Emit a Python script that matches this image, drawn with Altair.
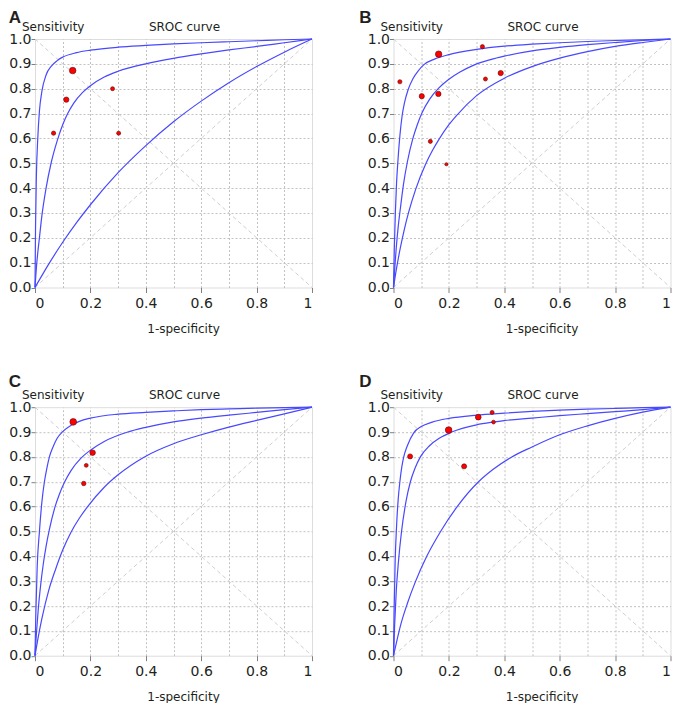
import altair as alt
import pandas as pd

# ---------------- data ----------------
# Panel A
A_pts_fpr = [0.136, 0.113, 0.280, 0.067, 0.302]
A_pts_sens = [0.873, 0.756, 0.800, 0.621, 0.621]
A_pts_w = [7.8, 5.0, 3.0, 3.3, 3.0]
A_up_fpr = [0, 0.002, 0.005, 0.01, 0.016, 0.025, 0.04, 0.06, 0.08, 0.1, 0.15, 0.2, 0.3, 0.4, 0.5, 0.6, 0.7, 0.8, 0.9, 1]
A_up_sens = [0, 0.25, 0.45, 0.6, 0.71, 0.79, 0.855, 0.892, 0.913, 0.927, 0.945, 0.955, 0.967, 0.974, 0.98, 0.985, 0.989, 0.993, 0.997, 1]
A_mid_fpr = [0, 0.005, 0.01, 0.016, 0.025, 0.04, 0.058, 0.08, 0.1, 0.118, 0.14, 0.172, 0.2, 0.25, 0.3, 0.4, 0.5, 0.6, 0.7, 0.8, 0.9, 1]
A_mid_sens = [0, 0.08, 0.14, 0.2, 0.29, 0.4, 0.5, 0.59, 0.655, 0.7, 0.742, 0.785, 0.812, 0.847, 0.87, 0.9, 0.922, 0.94, 0.956, 0.97, 0.985, 1]
A_low_fpr = [0, 0.05, 0.1, 0.15, 0.2, 0.3, 0.4, 0.5, 0.6, 0.7, 0.8, 0.9, 1]
A_low_sens = [0, 0.095, 0.182, 0.261, 0.333, 0.462, 0.571, 0.667, 0.75, 0.824, 0.889, 0.947, 1]

# Panel B
B_pts_fpr = [0.023, 0.163, 0.321, 0.102, 0.162, 0.332, 0.387, 0.133, 0.191]
B_pts_sens = [0.828, 0.939, 0.969, 0.770, 0.779, 0.839, 0.863, 0.588, 0.496]
B_pts_w = [3.2, 7.6, 3.2, 4.9, 5.2, 3.0, 5.0, 3.0, 1.9]
B_up_fpr = [0, 0.003, 0.007, 0.011, 0.016, 0.023, 0.031, 0.04, 0.053, 0.07, 0.09, 0.11, 0.15, 0.2, 0.3, 0.4, 0.5, 0.6, 0.7, 0.8, 0.9, 1]
B_up_sens = [0, 0.16, 0.31, 0.42, 0.51, 0.61, 0.69, 0.745, 0.797, 0.84, 0.873, 0.897, 0.92, 0.937, 0.958, 0.971, 0.979, 0.985, 0.99, 0.994, 0.997, 1]
B_mid_fpr = [0, 0.005, 0.01, 0.017, 0.025, 0.036, 0.05, 0.07, 0.085, 0.103, 0.13, 0.163, 0.2, 0.24, 0.29, 0.35, 0.4, 0.5, 0.6, 0.7, 0.8, 0.9, 1]
B_mid_sens = [0, 0.085, 0.16, 0.245, 0.32, 0.415, 0.505, 0.6, 0.652, 0.703, 0.757, 0.802, 0.838, 0.867, 0.895, 0.917, 0.931, 0.952, 0.966, 0.977, 0.986, 0.994, 1]
B_low_fpr = [0, 0.01, 0.025, 0.04, 0.055, 0.08, 0.115, 0.14, 0.163, 0.2, 0.23, 0.3, 0.4, 0.5, 0.6, 0.7, 0.8, 0.9, 1]
B_low_sens = [0, 0.071, 0.161, 0.238, 0.304, 0.395, 0.494, 0.55, 0.594, 0.655, 0.695, 0.772, 0.842, 0.889, 0.923, 0.949, 0.97, 0.986, 1]

# Panel C
C_pts_fpr = [0.138, 0.208, 0.185, 0.176]
C_pts_sens = [0.941, 0.817, 0.766, 0.693]
C_pts_w = [8.2, 5.6, 2.8, 3.6]
C_up_fpr = [0, 0.003, 0.008, 0.016, 0.025, 0.034, 0.042, 0.052, 0.065, 0.08, 0.1, 0.13, 0.16, 0.2, 0.3, 0.4, 0.5, 0.6, 0.7, 0.8, 0.9, 1]
C_up_sens = [0, 0.17, 0.36, 0.5, 0.62, 0.7, 0.75, 0.8, 0.84, 0.875, 0.902, 0.927, 0.943, 0.956, 0.972, 0.979, 0.985, 0.99, 0.993, 0.996, 0.998, 1]
C_mid_fpr = [0, 0.005, 0.012, 0.02, 0.03, 0.04, 0.052, 0.072, 0.088, 0.106, 0.13, 0.166, 0.2, 0.25, 0.335, 0.4, 0.5, 0.6, 0.7, 0.8, 0.9, 1]
C_mid_sens = [0, 0.087, 0.19, 0.28, 0.37, 0.44, 0.508, 0.598, 0.65, 0.697, 0.745, 0.795, 0.827, 0.862, 0.9, 0.919, 0.941, 0.956, 0.968, 0.979, 0.99, 1]
C_low_fpr = [0, 0.01, 0.025, 0.05, 0.075, 0.1, 0.13, 0.16, 0.19, 0.25, 0.3, 0.395, 0.5, 0.6, 0.7, 0.8, 0.9, 1]
C_low_sens = [0, 0.065, 0.15, 0.265, 0.35, 0.425, 0.497, 0.553, 0.6, 0.678, 0.728, 0.8, 0.853, 0.889, 0.92, 0.947, 0.973, 1]

# Panel D
D_pts_fpr = [0.060, 0.199, 0.306, 0.356, 0.361, 0.255]
D_pts_sens = [0.802, 0.908, 0.960, 0.979, 0.940, 0.762]
D_pts_w = [4.6, 8.0, 6.0, 3.0, 2.6, 4.6]
D_up_fpr = [0, 0.002, 0.006, 0.011, 0.017, 0.023, 0.03, 0.037, 0.05, 0.073, 0.1, 0.14, 0.2, 0.3, 0.4, 0.5, 0.6, 0.7, 0.8, 0.9, 1]
D_up_sens = [0, 0.17, 0.38, 0.52, 0.63, 0.7, 0.76, 0.8, 0.845, 0.897, 0.922, 0.94, 0.955, 0.968, 0.976, 0.983, 0.988, 0.992, 0.995, 0.998, 1]
D_mid_fpr = [0, 0.004, 0.01, 0.018, 0.029, 0.045, 0.061, 0.078, 0.097, 0.13, 0.165, 0.21, 0.3, 0.36, 0.4, 0.5, 0.6, 0.7, 0.8, 0.9, 1]
D_mid_sens = [0, 0.12, 0.26, 0.38, 0.5, 0.62, 0.7, 0.755, 0.8, 0.845, 0.875, 0.9, 0.929, 0.94, 0.946, 0.956, 0.966, 0.974, 0.982, 0.99, 1]
D_low_fpr = [0, 0.01, 0.025, 0.05, 0.08, 0.12, 0.17, 0.23, 0.307, 0.36, 0.427, 0.5, 0.6, 0.7, 0.8, 0.9, 1]
D_low_sens = [0, 0.05, 0.12, 0.21, 0.3, 0.4, 0.5, 0.6, 0.7, 0.75, 0.8, 0.84, 0.889, 0.925, 0.955, 0.98, 1]

# axes
x_label_ticks = [0, 0.2, 0.4, 0.6, 0.8, 1]
grid_ticks = [0, 0.1, 0.2, 0.3, 0.4, 0.5, 0.6, 0.7, 0.8, 0.9, 1]
diag_fpr = [0, 1, 0, 1]
diag_sens = [0, 1, 1, 0]
diag_id = ["a", "a", "b", "b"]

FONT = "DejaVu Sans"
TXT = "#231f20"
W, H = 277, 248.5

inner_grid = {"condition": {"test": "datum.value > 0.001 && datum.value < 0.999", "value": 1}, "value": 0}

xscale = alt.Scale(domain=[0, 1], nice=False, zero=False)
yscale = alt.Scale(domain=[0, 1], nice=False, zero=False)

y_enc = alt.Y(
    "sens:Q", scale=yscale,
    axis=alt.Axis(
        values=grid_ticks, format=".1f", grid=True, gridOpacity=inner_grid,
        gridColor="#c2c2c2", gridDash=[2, 2], gridWidth=1,
        domain=False, ticks=True, tickSize=4, tickColor="#808080",
        labelPadding=0, labelFontSize=14, labelFont=FONT, labelColor=TXT,
        title="Sensitivity", titleAngle=0, titleAlign="left", titleBaseline="alphabetic",
        titleX=-13.5, titleY=-9, titleFont=FONT, titleFontSize=12,
        titleFontWeight="normal", titleColor=TXT,
    ),
)


def panel(letter, pf, ps, pw, curves, letter_offset, letter_dx):
    diag = pd.DataFrame({"fpr": diag_fpr, "sens": diag_sens, "id": diag_id})
    rows = []
    for cid, (cf, cs) in enumerate(curves):
        for f, s in zip(cf, cs):
            rows.append({"fpr": f, "sens": s, "curve": cid})
    cdf = pd.DataFrame(rows)
    pdf = pd.DataFrame({"fpr": pf, "sens": ps, "w": pw})

    top_axis = alt.Axis(
        orient="top", values=grid_ticks, grid=True, gridOpacity=inner_grid,
        gridColor="#c2c2c2", gridDash=[2, 2], gridWidth=1,
        labels=False, ticks=False, domain=False,
        title="SROC curve", titleX=149, titleY=-8.5, titleAlign="center",
        titleBaseline="alphabetic", titleFont=FONT, titleFontSize=12,
        titleFontWeight="normal", titleColor=TXT,
    )
    bottom_axis = alt.Axis(
        orient="bottom", values=x_label_ticks, grid=False, domain=False,
        ticks=True, tickSize=5, tickColor="#808080",
        labelExpr="format(datum.value, '~g')", labelPadding=4,
        labelFontSize=14, labelFont=FONT, labelColor=TXT,
        title="1-specificity", titleX=148, titleY=44.5, titleAlign="center",
        titleBaseline="alphabetic", titleFont=FONT, titleFontSize=12,
        titleFontWeight="normal", titleColor=TXT,
    )

    diag_layer = alt.Chart(diag).mark_line(
        color="#cfcfcf", strokeWidth=1, strokeDash=[4, 3]
    ).encode(
        x=alt.X("fpr:Q", scale=xscale, axis=top_axis),
        y=y_enc,
        detail="id:N",
    )
    curve_layer = alt.Chart(cdf).mark_line(
        color="#4848ff", strokeWidth=1.2, interpolate="monotone"
    ).encode(
        x=alt.X("fpr:Q", scale=xscale, axis=bottom_axis),
        y=y_enc,
        detail="curve:N",
    )
    pt_layer = alt.Chart(pdf).mark_point(
        filled=True, fill="#ff0000", stroke="#5a0a0a", strokeWidth=0.6, opacity=1, shape="circle"
    ).encode(
        x=alt.X("fpr:Q", scale=xscale, axis=None),
        y=y_enc,
        size=alt.Size("w:Q", scale=alt.Scale(domain=[0, 10], range=[0, 55]), legend=None),
    )
    return alt.layer(diag_layer, curve_layer, pt_layer).resolve_axis(x="independent").properties(
        width=W, height=H,
        title=alt.Title(
            text=letter, anchor="start", fontSize=17, font="Liberation Sans",
            fontWeight="bold", color=TXT, offset=letter_offset, dx=letter_dx,
        ),
    )


pA = panel("A", A_pts_fpr, A_pts_sens, A_pts_w,
           [(A_up_fpr, A_up_sens), (A_mid_fpr, A_mid_sens), (A_low_fpr, A_low_sens)], -7, 0)
pB = panel("B", B_pts_fpr, B_pts_sens, B_pts_w,
           [(B_up_fpr, B_up_sens), (B_mid_fpr, B_mid_sens), (B_low_fpr, B_low_sens)], -7, -8)
pC = panel("C", C_pts_fpr, C_pts_sens, C_pts_w,
           [(C_up_fpr, C_up_sens), (C_mid_fpr, C_mid_sens), (C_low_fpr, C_low_sens)], -3, 0)
pD = panel("D", D_pts_fpr, D_pts_sens, D_pts_w,
           [(D_up_fpr, D_up_sens), (D_mid_fpr, D_mid_sens), (D_low_fpr, D_low_sens)], -3, -8)

chart = alt.concat(
    pA, pB, pC, pD, columns=2,
    spacing={"row": 119.2, "column": 81.5}, bounds="flush",
).properties(padding=0).configure_view(
    stroke="#868686", strokeWidth=1
).configure(background="white")

chart.save("out.html", embed_options={"renderer": "svg", "actions": False})
